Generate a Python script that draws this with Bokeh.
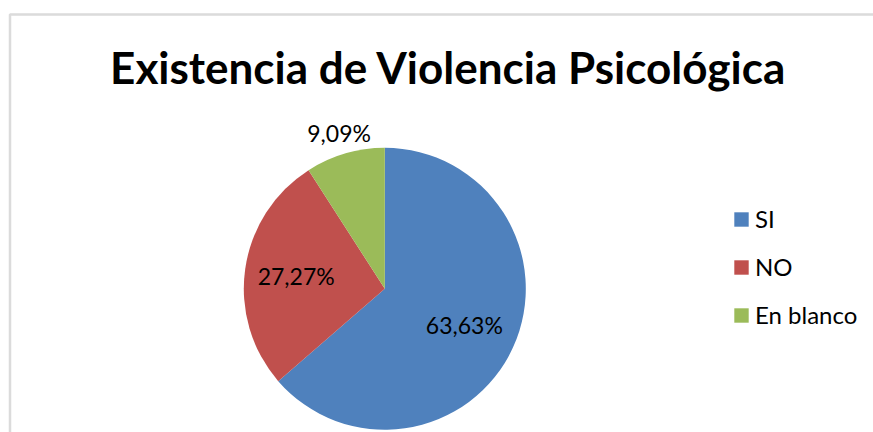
import math
from bokeh.plotting import figure
from bokeh.models import Range1d, ColumnDataSource, Legend, LegendItem, Label, BoxAnnotation
from bokeh.core.properties import value
from bokeh.embed import file_html
from bokeh.resources import INLINE

# ---- data ----
categories = ["SI", "NO", "En blanco"]
percentages = [63.63, 27.27, 9.09]
colors = ["#4F81BD", "#C0504D", "#9BBB59"]
title_text = "Existencia de Violencia Psicológica"

# ---- layout / style ----
W, H = 873, 432
CX, CY = 384.3, 143.7      # pie centre (data units == pixels)
R = 141                    # radius in screen pixels
label_r = [0.62, 0.635, 1.15]
FONT = "Lato"

total = sum(percentages)
starts, ends, lx, ly, ltxt = [], [], [], [], []
cum = 0.0
for i, v in enumerate(percentages):
    f = v / total
    a0 = math.pi / 2 - cum * 2 * math.pi
    a1 = math.pi / 2 - (cum + f) * 2 * math.pi
    mid = (a0 + a1) / 2
    starts.append(a0)
    ends.append(a1)
    lx.append(CX + label_r[i] * R * math.cos(mid))
    ly.append(CY + label_r[i] * R * math.sin(mid))
    ltxt.append(f"{v:.2f}%".replace(".", ","))
    cum += f

src = ColumnDataSource(dict(cat=categories, start=starts, end=ends, color=colors,
                            x=[CX] * 3, y=[CY] * 3))
lsrc = ColumnDataSource(dict(x=lx, y=ly, t=ltxt))

p = figure(width=W, height=H, x_range=Range1d(0, W), y_range=Range1d(0, H),
           x_axis_type=None, y_axis_type=None, toolbar_location=None,
           output_backend="svg", min_border=0)
p.grid.visible = False
p.outline_line_color = None
p.background_fill_color = "white"
p.border_fill_color = "white"

# chart border (partially visible like the reference)
p.add_layout(BoxAnnotation(left=9.5, right=W + 50, top=H - 14, bottom=-60,
                           fill_alpha=0, line_color="#878787", line_width=2.5))

wr = p.wedge(x="x", y="y", radius=R, radius_units="screen",
             start_angle="start", end_angle="end", direction="clock",
             fill_color="color", line_color=None, source=src)

p.text(x="x", y="y", text="t", source=lsrc, text_align="center",
       text_baseline="middle", text_font=value(FONT), text_font_size="23px",
       text_color="black")

p.add_layout(Label(x=448, y=H - 66, text=title_text, text_align="center",
                   text_baseline="middle", text_font=FONT,
                   text_font_style="bold", text_font_size="44px", text_color="black"))

items = [LegendItem(label=c, renderers=[wr], index=i) for i, c in enumerate(categories)]
legend = Legend(items=items, location=(732, 103), orientation="vertical",
                glyph_width=18, glyph_height=18, label_height=18, spacing=19,
                label_standoff=5, padding=0, margin=0,
                border_line_color=None, background_fill_alpha=0,
                label_text_font=FONT, label_text_font_size="24px",
                label_text_color="black")
p.add_layout(legend)

open("out.html", "w").write(file_html(p, INLINE))
